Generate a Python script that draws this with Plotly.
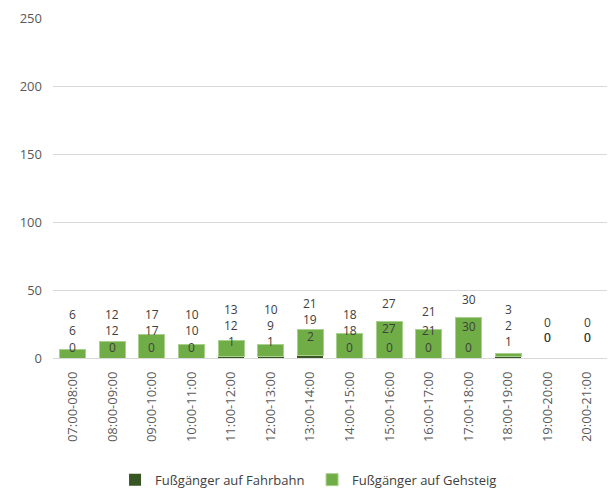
import plotly.graph_objects as go

# Hourly pedestrian counts
hours = ["07:00-08:00", "08:00-09:00", "09:00-10:00", "10:00-11:00", "11:00-12:00",
         "12:00-13:00", "13:00-14:00", "14:00-15:00", "15:00-16:00", "16:00-17:00",
         "17:00-18:00", "18:00-19:00", "19:00-20:00", "20:00-21:00"]
fahrbahn = [0, 0, 0, 0, 1, 1, 2, 0, 0, 0, 0, 1, 0, 0]
gehsteig = [6, 12, 17, 10, 12, 9, 19, 18, 27, 21, 30, 2, 0, 0]
totals = [f + g for f, g in zip(fahrbahn, gehsteig)]

DARK = "#375623"
LIGHT = "#70AD47"
TXT = "#404040"
FONT = "Open Sans"

fig = go.Figure()
fig.add_trace(go.Bar(x=hours, y=fahrbahn, name="Fußgänger auf Fahrbahn",
                     marker=dict(color=DARK, line=dict(width=0))))
fig.add_trace(go.Bar(x=hours, y=gehsteig, name="Fußgänger auf Gehsteig",
                     marker=dict(color=LIGHT, line=dict(color="#A9D18E", width=1))))

# Value labels: road value near the base, sidewalk value above it, total on top
annotations = []
for h, f, g, t in zip(hours, fahrbahn, gehsteig, totals):
    if t == 0:
        # empty hour: both segment labels sit on the same spot
        y_f = y_g = 15
        y_t = 26
    else:
        y_f = 8 + 4 * f
        y_g = max(min(max(t * 0.8, 19), 23), y_f + 12)
        y_t = max(y_g + 12, t + 13)
    for val, yy in ((f, y_f), (g, y_g), (t, y_t)):
        annotations.append(dict(x=h, y=yy, text=str(val), showarrow=False,
                                font=dict(family=FONT, size=12, color=TXT),
                                xanchor="center", yanchor="middle"))

fig.update_layout(
    barmode="stack",
    bargap=0.34,
    width=609, height=488,
    margin=dict(l=53, r=2, t=18, b=130, autoexpand=False),
    paper_bgcolor="white", plot_bgcolor="white",
    font=dict(family=FONT, size=12, color="#595959"),
    annotations=annotations,
    showlegend=True,
    legend=dict(orientation="h", x=0.112, xanchor="left",
                yref="container", y=0.017, yanchor="middle",
                font=dict(family=FONT, size=13, color="#404040"),
                traceorder="normal", itemwidth=30, entrywidth=152),
    yaxis=dict(range=[0, 250], dtick=50, showgrid=True, gridcolor="#D9D9D9",
               gridwidth=1, zeroline=True, zerolinecolor="#D9D9D9", zerolinewidth=1,
               showline=False, ticks="", ticklabelstandoff=10,
               tickfont=dict(family=FONT, size=13, color="#595959")),
    xaxis=dict(tickangle=-90, showline=False, ticks="", showgrid=False,
               ticklabelstandoff=10, automargin=False,
               tickfont=dict(family=FONT, size=13, color="#595959")),
)

fig.write_html("out.html")
